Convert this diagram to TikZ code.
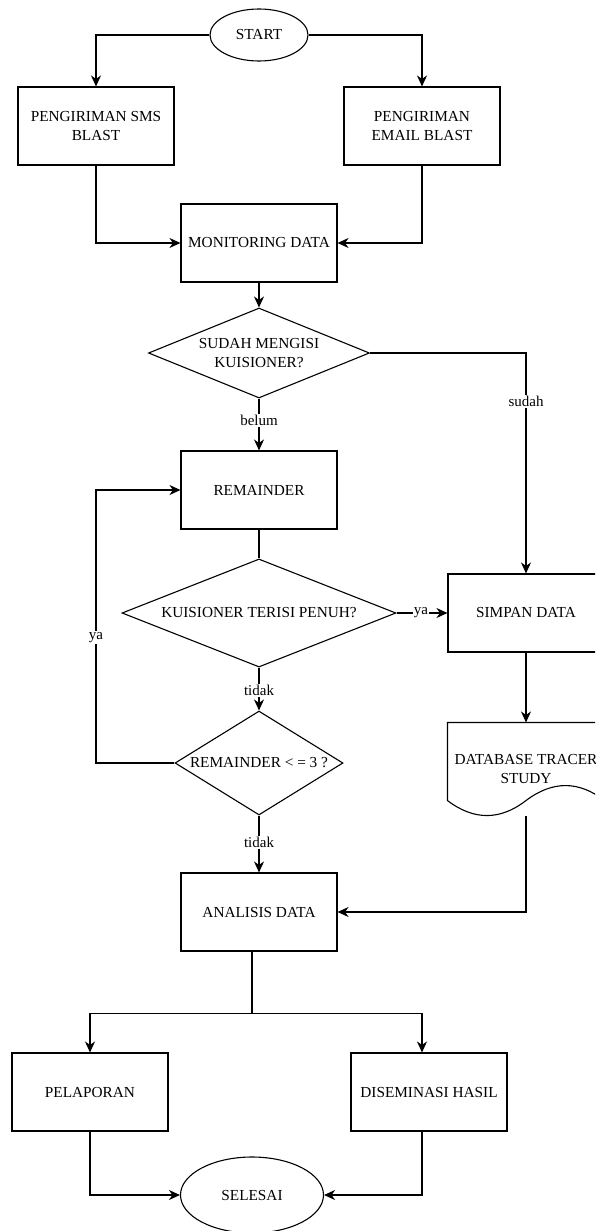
\documentclass[tikz,border=0pt]{standalone}
\usepackage{fontspec}
\setmainfont{Liberation Serif}
\usepackage{tikz}
\usetikzlibrary{shapes.geometric,arrows.meta}

\begin{document}
\begin{tikzpicture}[x=1pt,y=1pt,line width=1.1pt]
            \tikzstyle{box}=[draw,rectangle,align=center,minimum width=156pt,minimum height=78pt,font=\fontsize{15.3}{18.5}\selectfont]
            \tikzstyle{term}=[draw,ellipse,align=center,inner sep=0pt,font=\fontsize{15.3}{18.5}\selectfont]
            \tikzstyle{cond}=[draw,diamond,aspect=2,align=center,inner sep=0pt,font=\fontsize{15.3}{18.5}\selectfont]
            \tikzstyle{arr}=[-{Stealth[length=11pt,width=10pt,inset=3.5pt]}]
            \tikzstyle{lbl}=[draw=none,fill=white,inner sep=1pt,font=\fontsize{15}{17}\selectfont]

            \useasboundingbox (0,0) rectangle (595,-1231);
            \clip (0,0) rectangle (595,-1231);

            \node[term,minimum width=98pt,minimum height=52pt] (start) at (259,-35) {START};
            \node[box] (sms) at (96,-126) {PENGIRIMAN SMS\\BLAST};
            \node[box] (email) at (422,-126) {PENGIRIMAN\\EMAIL BLAST};
            \node[box] (monitor) [node distance=208pt,below of=start] {MONITORING DATA};
            \node[cond,minimum width=221pt,minimum height=90pt] (d1) [node distance=110pt,below of=monitor] {SUDAH MENGISI\\KUISIONER?};
            \node[box] (remainder) [node distance=137pt,below of=d1] {REMAINDER};
            \node[cond,minimum width=274pt,minimum height=91pt] (d2) [node distance=123pt,below of=remainder] {KUISIONER TERISI PENUH?};
            \node[cond,minimum width=168pt,minimum height=104pt,inner xsep=-6pt] (d3) [node distance=150pt,below of=d2] {REMAINDER < = 3 ?};
            \node[box] (analisis) [node distance=149pt,below of=d3] {ANALISIS DATA};
            \node[box] (simpan) [node distance=267pt,right of=d2] {SIMPAN DATA};
            \node[minimum width=156pt,minimum height=92pt,align=center,font=\fontsize{15.3}{18.5}\selectfont] (db) [node distance=156pt,below of=simpan] {DATABASE TRACER\\STUDY};
            \node[box] (pelaporan) at (90,-1092) {PELAPORAN};
            \node[box] (diseminasi) at (429,-1092) {DISEMINASI HASIL};
            \node[term,minimum width=143pt,minimum height=76pt] (selesai) at (252,-1195) {SELESAI};

            % database shape
            \draw (db.north west) -- (db.north east) -- ([yshift=15pt]db.south east)
                .. controls ([shift={(-26pt,35pt)}]db.south east) and ([shift={(-52pt,35pt)}]db.south east) .. ([yshift=15pt]db.south)
                .. controls ([shift={(-26pt,-5pt)}]db.south) and ([shift={(-52pt,-5pt)}]db.south) .. ([yshift=15pt]db.south west) -- cycle;

            \draw[arr] (start) -| (sms);
            \draw[arr] (start) -| (email);
            \draw[arr] (sms) |- (monitor);
            \draw[arr] (email) |- (monitor);
            \draw[arr] (monitor) -- (d1);
            \draw[arr] (d1) -| (simpan) node[lbl,pos=0.61] {sudah};
            \draw[arr] (d1) -- (remainder) node[lbl,pos=0.42] {belum};
            \draw (remainder) -- (d2);
            \draw[arr] (d2) -- (simpan) node[lbl,pos=0.48] {ya};
            \draw[arr] (simpan) -- (db);
            \draw[arr] (d2) -- (d3) node[lbl,pos=0.54] {tidak};
            \draw[arr] (d3) -- (d3 -| sms) |- (remainder) node[lbl,pos=0.23] {ya};
            \draw[arr] (d3) -- (analisis) node[lbl,pos=0.47] {tidak};
            \draw[arr] (db) |- (analisis);
            \draw ([xshift=-7pt]analisis.south) -- ++(0,-62) coordinate (split);
            \draw[arr] (split) -| (pelaporan);
            \draw[arr] (split) -| ([xshift=-7pt]diseminasi.north);
            \draw[arr] (pelaporan) |- (selesai);
            \draw[arr] ([xshift=-7pt]diseminasi.south) |- (selesai);
        \end{tikzpicture}
\end{document}
